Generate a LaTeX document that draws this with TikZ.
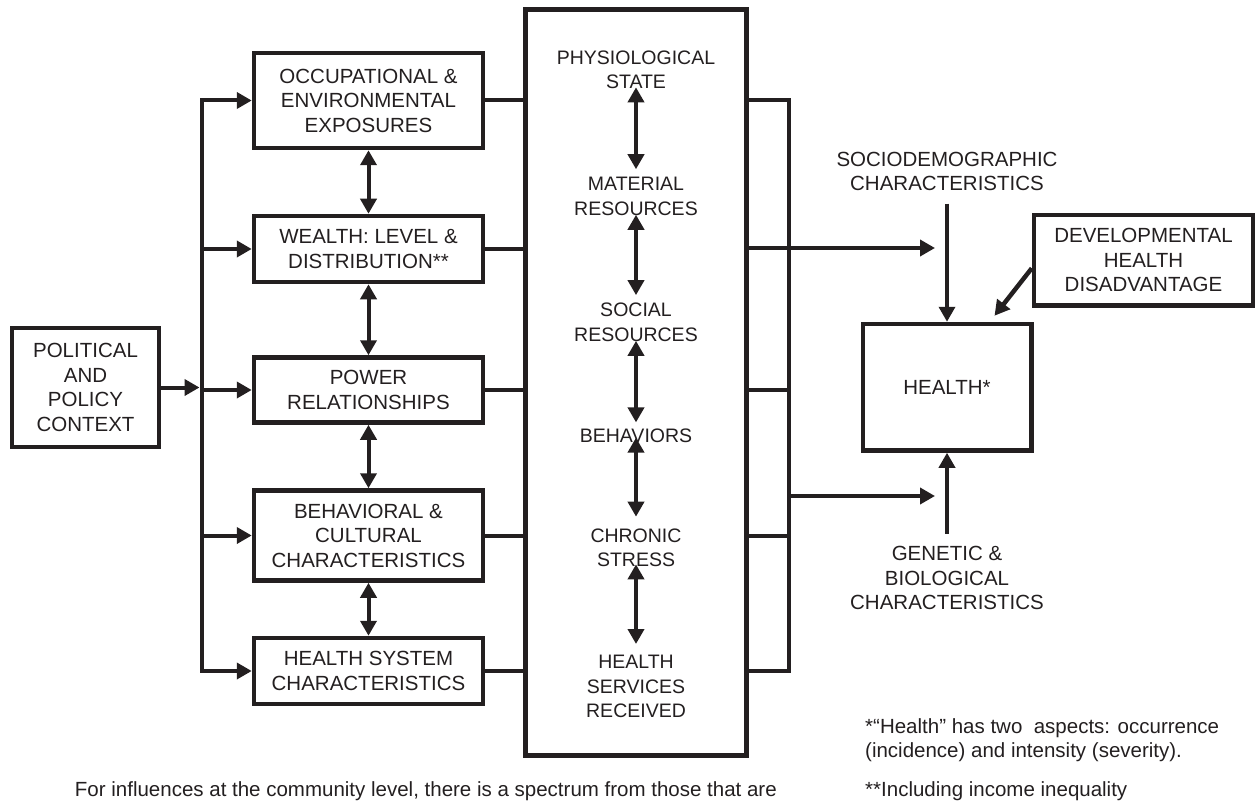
\documentclass[tikz,border=0pt]{standalone}
\usepackage{fontspec}
\setmainfont{Liberation Sans}
\usepackage{tikz}
\usetikzlibrary{arrows.meta,calc}
\definecolor{ink}{RGB}{35,31,32}

\begin{document}
\begin{tikzpicture}[x=1pt,y=-1pt,
    box/.style={draw=ink,line width=4.5pt,align=center,inner sep=0pt,text=ink,font=\fontsize{20.5}{24.5}\selectfont},
    lbl/.style={align=center,inner sep=0pt,text=ink,font=\fontsize{20.5}{24.5}\selectfont},
    inlbl/.style={lbl,font=\fontsize{19.5}{24.5}\selectfont},
    wire/.style={draw=ink,line width=4pt},
    arr/.style={wire,-{Triangle[width=16pt,length=15pt]}},
    darr/.style={wire,{Triangle[width=16pt,length=15pt]}-{Triangle[width=16pt,length=15pt]}}]
    \useasboundingbox (0,0) rectangle (1257,802);
    \coordinate (lbus) at (201.5,0);
    \coordinate (rbus) at (789,0);

    \node[box,minimum width=147pt,minimum height=119pt] (pol) at (85.5,387.5) {POLITICAL\\AND\\POLICY\\CONTEXT};

    \node[box,minimum width=229pt,minimum height=95pt] (occ) at (368.5,100.5) {OCCUPATIONAL \&\\ENVIRONMENTAL\\EXPOSURES};
    \node[box,minimum width=229pt,minimum height=66pt] (wlth) at (368.5,249) {WEALTH: LEVEL \&\\DISTRIBUTION**};
    \node[box,minimum width=229pt,minimum height=65pt] (pow) at (368.5,390) {POWER\\RELATIONSHIPS};
    \node[box,minimum width=229pt,minimum height=90pt] (cult) at (368.5,535.5) {BEHAVIORAL \&\\CULTURAL\\CHARACTERISTICS};
    \node[box,minimum width=229pt,minimum height=66pt] (hsys) at (368.5,671) {HEALTH SYSTEM\\CHARACTERISTICS};

    \node[box,line width=5pt,minimum width=221pt,minimum height=745.5pt] (core) at (636,382.75) {};
    \node[inlbl] (phys) at (636,70) {PHYSIOLOGICAL\\STATE};
    \node[inlbl] (matr) at (636,196.5) {MATERIAL\\RESOURCES};
    \node[inlbl] (socl) at (636,322.5) {SOCIAL\\RESOURCES};
    \node[inlbl] (bhv) at (636,435.5) {BEHAVIORS};
    \node[inlbl] (strs) at (636,548) {CHRONIC\\STRESS};
    \node[inlbl] (hsrv) at (636,686.5) {HEALTH\\SERVICES\\RECEIVED};

    \node[box,minimum width=168.5pt,minimum height=126.5pt] (hlth) at (947,387.25) {HEALTH*};
    \node[box,minimum width=219pt,minimum height=90.5pt] (dev) at (1143.5,260.25) {DEVELOPMENTAL\\HEALTH\\DISADVANTAGE};
    \node[lbl] (socio) at (947,171.5) {SOCIODEMOGRAPHIC\\CHARACTERISTICS};
    \node[lbl] (gen) at (947,578) {GENETIC \&\\BIOLOGICAL\\CHARACTERISTICS};

    \node[lbl,align=left,anchor=north west] (fn1) at (865,718) {*“Health” has two\ \ aspects: occurrence\\(incidence) and intensity (severity).};
    \node[lbl,anchor=base west] (fn2) at (865,796) {**Including income inequality};
    \node[lbl,anchor=base east] (note) at (777,796) {For influences at the community level, there is a spectrum from those that are};

    \draw[arr,shorten >=2pt] (pol.east) -- (pol.east -| lbus);
    \draw[darr] (occ.west) -- (occ.west -| lbus) -- (hsys.west -| lbus) -- (hsys.west);
    \draw[arr] (wlth.west -| lbus) -- (wlth.west);
    \draw[arr] (pow.west -| lbus) -- (pow.west);
    \draw[arr] (cult.west -| lbus) -- (cult.west);

    \draw[darr] (occ) -- (wlth);
    \draw[darr] (wlth) -- (pow);
    \draw[darr] (pow) -- (cult);
    \draw[darr] (cult) -- (hsys);

    \foreach \b in {occ,wlth,pow,cult,hsys}
        \draw[wire] (\b.east) -- (\b.east -| core.west);

    \draw[darr,shorten <=-2pt,shorten >=8pt] (phys.south) -- (matr.north);
    \draw[darr,shorten <=-1pt,shorten >=8pt] (matr.south) -- (socl.north);
    \draw[darr,shorten <=-1pt,shorten >=6pt] (socl.south) -- (bhv.north);
    \draw[darr,shorten <=-5pt,shorten >=12pt] (bhv.south) -- (strs.north);
    \draw[darr,shorten <=-3pt,shorten >=11pt] (strs.south) -- (hsrv.north);

    \draw[wire] (core.east |- occ) -- (rbus |- occ) -- (rbus |- hsys) -- (core.east |- hsys);
    \draw[wire] (core.east |- pow) -- (rbus |- pow);
    \draw[wire] (core.east |- cult) -- (rbus |- cult);
    \coordinate (t1) at (935,248);
    \coordinate (t2) at (935,496);
    \draw[arr] (core.east |- t1) -- (t1);
    \draw[arr] (rbus |- t2) -- (t2);

    \draw[arr,line width=3.5pt,shorten <=12.5pt] (socio.south) -- (hlth.north);
    \draw[arr,line width=3.5pt,shorten <=12.5pt] (gen.north) -- (hlth.south);
    \draw[arr,line width=4.5pt] ([yshift=-8pt]dev.west) -- ([xshift=-39pt,yshift=6pt]hlth.north east);
\end{tikzpicture}
\end{document}
